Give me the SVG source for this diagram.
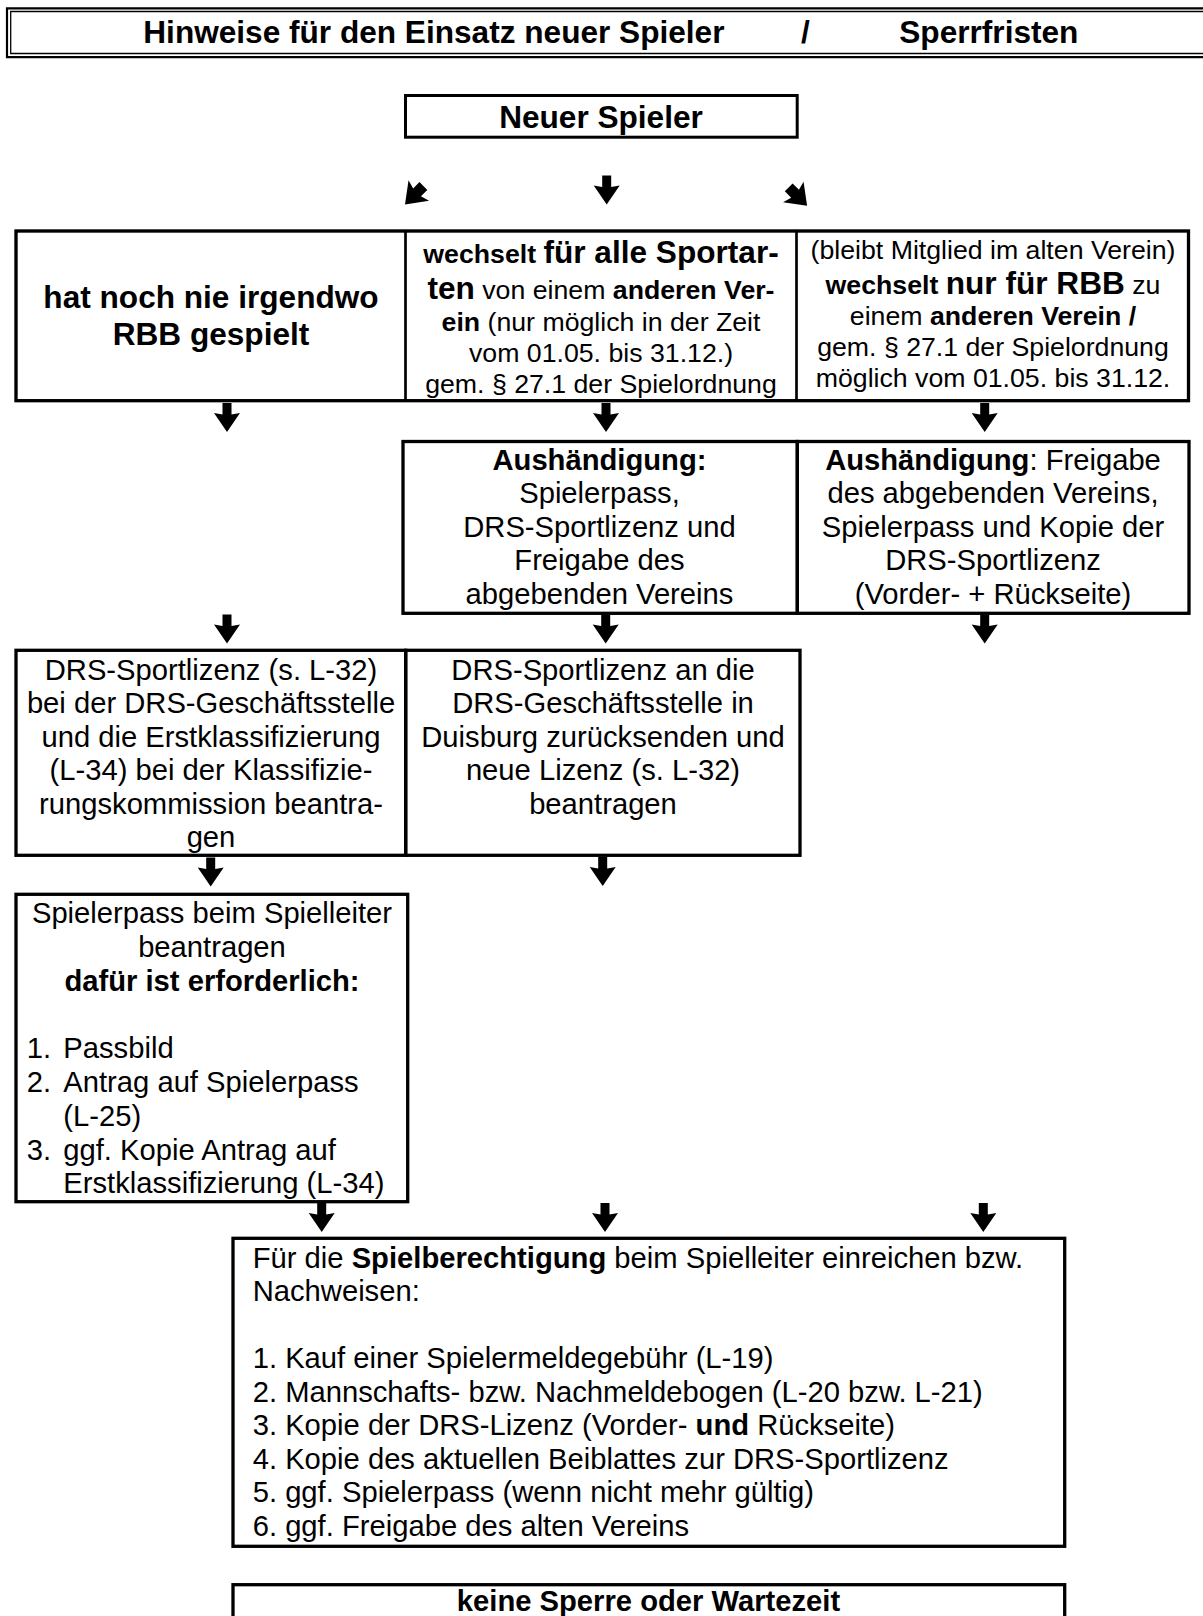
<svg xmlns="http://www.w3.org/2000/svg" width="1203" height="1616" viewBox="0 0 1203 1616">
<style>
  text { font-family: "Liberation Sans", Arial, Helvetica, sans-serif; fill: #000; }
  .b { font-weight: bold; }
  .big { font-size: 31.6px; font-weight: bold; }
  .s { font-size: 26.7px; }
  .m { font-size: 29.2px; }
  .c { text-anchor: middle; }
  .frame { fill: none; stroke: #000; stroke-width: 3.3; }
  .cell { fill: none; stroke: #000; stroke-width: 2.2; }
  .arrow { fill: #000; }
</style>
<defs>
  <path id="ad" d="M-4.5,0 H4.5 V11.5 L13,10 L0,29 L-13,10 L-4.5,11.5 Z"/>
  <path id="adiag" d="M-5.5,0 H5.5 V9 L14.5,6.5 L0,26 L-14.5,6.5 L-5.5,9 Z"/>
</defs>
<rect x="0" y="0" width="1203" height="1616" fill="#fff"/>

<g id="title">
  <path d="M1215,8.3 H7 V57.2 H1215" fill="none" stroke="#000" stroke-width="2.2"/>
  <path d="M1215,11.5 H10.7 V53.5 H1215" fill="none" stroke="#000" stroke-width="1.3"/>
  <text class="big" x="143.3" y="43.3">Hinweise für den Einsatz neuer Spieler</text>
  <text class="big" x="801" y="43.3">/</text>
  <text class="big" x="899.3" y="43.3">Sperrfristen</text>
</g>

<g id="neuer-spieler">
  <rect x="405.5" y="95.5" width="391.7" height="41.7" fill="none" stroke="#000" stroke-width="3"/>
  <text class="big c" x="601" y="127.7">Neuer Spieler</text>
</g>

<g id="row1-frame">
  <rect class="frame" x="16" y="231" width="1172.5" height="169.7"/>
</g>

<g id="n-nie-gespielt">
  <rect class="cell" x="16" y="231" width="389.5" height="169.7"/>
  <text class="big c" x="211" y="308.3">hat noch nie irgendwo</text>
  <text class="big c" x="211" y="345">RBB gespielt</text>
</g>

<g id="n-alle-sportarten">
  <rect class="cell" x="405.5" y="231" width="391" height="169.7"/>
  <text class="s c" x="601" y="262.7"><tspan class="b">wechselt </tspan><tspan class="big">für alle Sportar-</tspan></text>
  <text class="s c" x="601" y="299"><tspan class="big">ten</tspan> von einem <tspan class="b">anderen Ver-</tspan></text>
  <text class="s c" x="601" y="330.7"><tspan class="b">ein</tspan> (nur möglich in der Zeit</text>
  <text class="s c" x="601" y="361.7">vom 01.05. bis 31.12.)</text>
  <text class="s c" x="601" y="392.7">gem. § 27.1 der Spielordnung</text>
</g>

<g id="n-nur-rbb">
  <rect class="cell" x="796.5" y="231" width="392" height="169.7"/>
  <text class="s c" x="993" y="259">(bleibt Mitglied im alten Verein)</text>
  <text class="s c" x="993" y="294"><tspan class="b">wechselt </tspan><tspan class="big">nur für RBB</tspan> zu</text>
  <text class="s c" x="993" y="325">einem <tspan class="b">anderen Verein /</tspan></text>
  <text class="s c" x="993" y="356">gem. § 27.1 der Spielordnung</text>
  <text class="s c" x="993" y="387">möglich vom 01.05. bis 31.12.</text>
</g>

<g id="n-aushaendigung-1">
  <rect class="frame" x="403" y="441.5" width="394.3" height="171.8"/>
  <text class="m c" x="599.5" y="470"><tspan class="b">Aushändigung:</tspan></text>
  <text class="m c" x="599.5" y="503.4">Spielerpass,</text>
  <text class="m c" x="599.5" y="536.8">DRS-Sportlizenz und</text>
  <text class="m c" x="599.5" y="570.2">Freigabe des</text>
  <text class="m c" x="599.5" y="603.6">abgebenden Vereins</text>
</g>

<g id="n-aushaendigung-2">
  <rect class="frame" x="797.3" y="441.5" width="391.7" height="171.8"/>
  <text class="m c" x="993" y="470"><tspan class="b">Aushändigung</tspan>: Freigabe</text>
  <text class="m c" x="993" y="503.4">des abgebenden Vereins,</text>
  <text class="m c" x="993" y="536.8">Spielerpass und Kopie der</text>
  <text class="m c" x="993" y="570.2">DRS-Sportlizenz</text>
  <text class="m c" x="993" y="603.6">(Vorder- + Rückseite)</text>
</g>

<g id="n-lizenz-beantragen">
  <rect class="frame" x="16" y="650.3" width="389.7" height="205"/>
  <text class="m c" x="211" y="679.5">DRS-Sportlizenz (s. L-32)</text>
  <text class="m c" x="211" y="713">bei der DRS-Geschäftsstelle</text>
  <text class="m c" x="211" y="746.5">und die Erstklassifizierung</text>
  <text class="m c" x="211" y="780">(L-34) bei der Klassifizie-</text>
  <text class="m c" x="211" y="813.5">rungskommission beantra-</text>
  <text class="m c" x="211" y="847">gen</text>
</g>

<g id="n-lizenz-zuruecksenden">
  <rect class="frame" x="405.7" y="650.3" width="394.3" height="205"/>
  <text class="m c" x="603" y="679.5">DRS-Sportlizenz an die</text>
  <text class="m c" x="603" y="713">DRS-Geschäftsstelle in</text>
  <text class="m c" x="603" y="746.5">Duisburg zurücksenden und</text>
  <text class="m c" x="603" y="780">neue Lizenz (s. L-32)</text>
  <text class="m c" x="603" y="813.5">beantragen</text>
</g>

<g id="n-spielerpass">
  <rect class="frame" x="16" y="894.3" width="391.7" height="307.4"/>
  <text class="m c" x="212" y="923.3">Spielerpass beim Spielleiter</text>
  <text class="m c" x="212" y="957">beantragen</text>
  <text class="m c b" x="212" y="990.8">dafür ist erforderlich:</text>
  <text class="m" x="26.7" y="1058.3">1.</text>
  <text class="m" x="63.3" y="1058.3">Passbild</text>
  <text class="m" x="26.7" y="1092">2.</text>
  <text class="m" x="63.3" y="1092">Antrag auf Spielerpass</text>
  <text class="m" x="63.3" y="1125.8">(L-25)</text>
  <text class="m" x="26.7" y="1159.5">3.</text>
  <text class="m" x="63.3" y="1159.5">ggf. Kopie Antrag auf</text>
  <text class="m" x="63.3" y="1193.3">Erstklassifizierung (L-34)</text>
</g>

<g id="n-spielberechtigung">
  <rect class="frame" x="233" y="1238.3" width="831.7" height="308"/>
  <text class="m" x="252.7" y="1267.7">Für die <tspan class="b">Spielberechtigung</tspan> beim Spielleiter einreichen bzw.</text>
  <text class="m" x="252.7" y="1301.2">Nachweisen:</text>
  <text class="m" x="252.7" y="1368.2">1. Kauf einer Spielermeldegebühr (L-19)</text>
  <text class="m" x="252.7" y="1401.7">2. Mannschafts- bzw. Nachmeldebogen (L-20 bzw. L-21)</text>
  <text class="m" x="252.7" y="1435.2">3. Kopie der DRS-Lizenz (Vorder- <tspan class="b">und</tspan> Rückseite)</text>
  <text class="m" x="252.7" y="1468.7">4. Kopie des aktuellen Beiblattes zur DRS-Sportlizenz</text>
  <text class="m" x="252.7" y="1502.2">5. ggf. Spielerpass (wenn nicht mehr gültig)</text>
  <text class="m" x="252.7" y="1535.7">6. ggf. Freigabe des alten Vereins</text>
</g>

<g id="n-keine-sperre">
  <rect class="frame" x="233" y="1584.7" width="831.7" height="60"/>
  <text class="m c b" x="648.5" y="1611">keine Sperre oder Wartezeit</text>
</g>

<g id="connectors" class="arrow">
  <use href="#adiag" transform="translate(423.4,186) rotate(45)"/>
  <use href="#ad" transform="translate(606.7,175.5)"/>
  <use href="#adiag" transform="translate(788.7,187.4) rotate(-45)"/>
  <use href="#ad" transform="translate(227,403)"/>
  <use href="#ad" transform="translate(606,403)"/>
  <use href="#ad" transform="translate(984.7,403)"/>
  <use href="#ad" transform="translate(227,614.5)"/>
  <use href="#ad" transform="translate(605.7,614.5)"/>
  <use href="#ad" transform="translate(984.7,614.5)"/>
  <use href="#ad" transform="translate(210.7,857.5)"/>
  <use href="#ad" transform="translate(602.7,857)"/>
  <use href="#ad" transform="translate(321.7,1203)"/>
  <use href="#ad" transform="translate(605,1203)"/>
  <use href="#ad" transform="translate(983.3,1203)"/>
</g>
</svg>
